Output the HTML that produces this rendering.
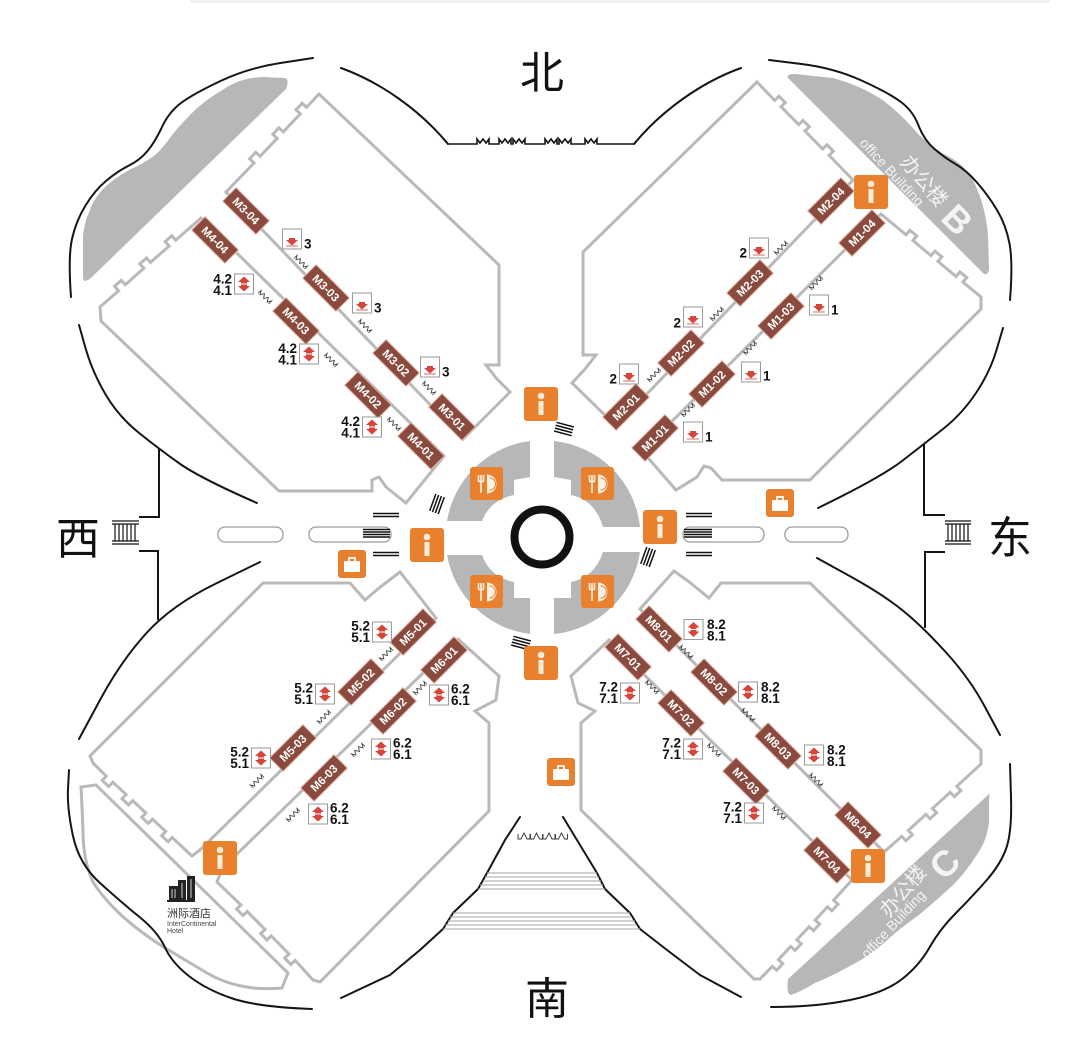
<!DOCTYPE html>
<html><head><meta charset="utf-8"><style>
html,body{margin:0;padding:0;background:#fff;}
svg{display:block;}
.hall{fill:none;stroke:#b9b9b9;stroke-width:3;stroke-linejoin:miter;}
.blk{fill:none;stroke:#151515;stroke-width:2;stroke-linecap:round;}
.gf{fill:#b5b7b9;}
.lb rect{fill:#8b4a3e;stroke:#e3b2a6;stroke-width:1;}
.lb text{fill:#fff;font:bold 11.5px "Liberation Sans",sans-serif;text-anchor:middle;}
.n{font:bold 13.5px "Liberation Sans",sans-serif;fill:#111;}
.ne{text-anchor:end;}
.dir{font:44px "Liberation Sans","Noto Sans CJK SC",sans-serif;fill:#111;text-anchor:middle;}
.st{stroke:#111;stroke-width:1.5;fill:none;}
</style></head><body>
<svg width="1080" height="1057" viewBox="0 0 1080 1057" xmlns="http://www.w3.org/2000/svg">
<defs>
<symbol id="info" viewBox="0 0 34 34"><rect width="34" height="34" rx="3" fill="#e8802e"/><circle cx="17" cy="9" r="3.3" fill="#fbecd9"/><rect x="14.5" y="14" width="5" height="14" fill="#fbecd9"/></symbol>
<symbol id="rest" viewBox="0 0 33 33"><rect width="33" height="33" rx="3" fill="#e8802e"/><path d="M8.5,8 V14 M11,8 V14 M13.5,8 V14 M8,14.5 H14 M11,14 V26" stroke="#fdf1e4" stroke-width="1.6" fill="none"/><path d="M17,7.5 A9.5,9.5 0 0 1 17,26.5 Z" fill="#fdf1e4"/><path d="M19.5,11 A6,6 0 0 1 19.5,23" stroke="#e8802e" stroke-width="1" fill="none"/></symbol>
<symbol id="bag" viewBox="0 0 28 28"><rect width="28" height="28" rx="3" fill="#e8802e"/><rect x="6" y="11" width="16" height="11" rx="1" fill="#fff"/><path d="M11,11 V8 H17 V11" stroke="#fff" stroke-width="1.8" fill="none"/></symbol>
<symbol id="ud" viewBox="0 0 20 21"><rect x="0.5" y="0.5" width="19" height="20" fill="#fff" stroke="#9a9a9a"/><polygon points="10,3 16,8.5 13,8.5 13,10 7,10 7,8.5 4,8.5" fill="#d6453b"/><polygon points="10,18 16,12.5 13,12.5 13,11 7,11 7,12.5 4,12.5" fill="#d6453b"/></symbol>
<symbol id="d1" viewBox="0 0 20 21"><rect x="0.5" y="0.5" width="19" height="20" fill="#fff" stroke="#9a9a9a"/><polygon points="10,17 16,11.5 13,11.5 13,9.5 7,9.5 7,11.5 4,11.5" fill="#d6453b"/><line x1="4" y1="17.5" x2="16" y2="17.5" stroke="#d6453b" stroke-width="0.8"/></symbol>
<symbol id="zz" viewBox="0 0 16 6"><path d="M0.5,5.5 V1 L2.9,5 L5.3,1 L8,5 L10.7,1 L13.1,5 L15.5,1 V5.5" fill="none" stroke="#444" stroke-width="0.9"/></symbol>
</defs>
<rect width="1080" height="1057" fill="#fff"/>
<line x1="190" y1="1.5" x2="1050" y2="1.5" stroke="#efefef" stroke-width="3"/>

<!-- gray blobs -->
<path class="gf" d="M286,89 Q290,78 284,78 L262,77 Q240,78 224,89 Q205,100 193,112 Q180,125 172,135 Q163,148 155,155 Q143,164 131,169 Q114,178 103,189 Q93,200 90,210 Q84,223 83,236 L83,271 Q83,281 84,281 Q89,281 95,274 Z"/>
<path class="gf" d="M788,78 Q786,74 795,74 L833,78 Q862,86 884,101 Q903,116 919,135 Q935,150 953,159 Q970,170 977,189 Q986,210 988,236 L989,268 Q989,275 984,274 Z"/>
<path class="gf" d="M988,795 Q990,790 989,800 L989,822 Q987,838 981,848 Q968,870 953,885 Q937,900 919,915 Q900,928 884,943 Q868,957 850,966 Q832,976 815,983 Q800,992 791,995 Q786,994 788,979 Z"/>

<!-- ring segments -->
<path class="gf" d="M447,521 A96.5,96.5 0 0 1 530,441 L530,477 L514,480 L514,495 Q490,500 482,521 Z"/>
<path class="gf" d="M554,441 A96.5,96.5 0 0 1 640,527 L603,527 Q595,500 571,495 L571,480 L554,477 Z"/>
<path class="gf" d="M447,555 L482,555 Q490,577 514,582 L514,598 L530,598 L530,634 A96.5,96.5 0 0 1 447,555 Z"/>
<path class="gf" d="M554,634 L554,598 L571,598 L571,582 Q595,577 603,552 L640,552 A96.5,96.5 0 0 1 554,634 Z"/>

<!-- halls -->
<path class="hall" d="M319,94 L499,265 L499,365 L486,365 L497,379 L510,392 L463,439 L226,192 L254,163 L249.6,158.8 L255.7,152.3 L260.1,156.3 L277.2,138.3 L272.8,134.3 L278.9,127.8 L283.3,131.8 L300.4,113.8 L296,109.8 L302.1,103.3 L306.5,107.4 Z"/>
<path class="hall" d="M201,218 L175.8,240.1 L171.8,235.7 L165.1,241.6 L169.1,246 L150.5,262.4 L146.5,258 L139.8,263.9 L143.8,268.3 L125.3,284.8 L121.3,280.4 L114.6,286.3 L118.6,290.7 L100,307 L101,321 L279,491 L372,491 L372,480 L379,477 L386,487 L406,503 L444,456 Z"/>
<path class="hall" d="M757,82 L583,252 L583,355 L596,355 L585,369 L572,383 L616,426 L853,180 L829,155.3 L833.3,151.2 L827,144.8 L822.7,149 L805,131 L809.3,126.8 L803,120.4 L798.7,124.6 L781,106.7 L785.3,102.6 L779,96.2 L774.7,100.4 Z"/>
<path class="hall" d="M642,451 L881,214 L906,234.8 L909.9,230.3 L916.8,236 L912.9,240.5 L931,255.6 L934.9,251.1 L941.8,256.8 L937.9,261.3 L956,276.5 L959.9,271.9 L966.8,277.6 L962.9,282.1 L981,297 L981,309 L810,480 L722,480 L711,468 L704,466 L697,477 L676,490 Z"/>
<path class="hall" d="M263,583 L350,583 L365,600 L379,588 L400,572 L436,618 L200,850 L192,856 L172.2,837.5 L168.1,841.8 L161.6,835.7 L165.7,831.4 L152.4,819.1 L148.3,823.4 L141.8,817.3 L145.9,813 L132.6,800.6 L128.5,804.9 L122,798.8 L126.1,794.5 L112.8,782.2 L108.7,786.5 L102.2,780.4 L106.3,776.1 L93,763 L90,756 Z"/>
<path class="hall" d="M458,639 L238,853 L222,869 L217,882 L241,905 L236.7,909.1 L242.9,915.5 L247.2,911.4 L265,929.5 L260.7,933.6 L266.9,940 L271.2,935.9 L289,954 L284.7,958.1 L290.9,964.5 L295.2,960.4 L313,980 L320,982 L489,811 L489,723 L475,711 L496,700 L499,676 Z"/>
<path class="hall" d="M674,571 L688,581 L709,598 L721,583 L810,583 L981,750 L981,764 L956.8,786.3 L960.9,790.6 L954.3,796.6 L950.2,792.3 L932.5,808.4 L936.6,812.7 L930,818.7 L925.9,814.4 L908.3,830.4 L912.4,834.7 L905.8,840.7 L901.7,836.4 L884,852 L640,609 Z"/>
<path class="hall" d="M609,640 L852,880 L833.6,900.3 L838,904.2 L831.9,910.8 L827.5,906.9 L815.2,920.1 L819.6,924 L813.5,930.6 L809.1,926.7 L796.8,939.9 L801.2,943.8 L795.1,950.4 L790.7,946.5 L778.4,959.7 L782.8,963.6 L776.7,970.2 L772.3,966.3 L760,979 L754,979 L581,810 L581,723 L595,711 L578,703 L571,676 Z"/>
<path class="hall" d="M81,787 L96,785 L288,973 L282,988 Q260,990 241,986 Q222,982 207,973 Q185,960 162,946 Q140,932 121,915 Q103,898 93,882 Q83,860 83,831 Q82,805 81,787 Z"/>

<!-- outer black lines -->
<path class="blk" d="M313,58 L280.5,63 Q248,68 220.5,81 Q193,94 181,103 Q169,112 162,127 Q155,142 147.5,151 Q140,160 129,165.5 Q118,171 106.5,180.5 Q95,190 85.5,205.5 Q76,221 72,239 Q68,257 71,297"/>
<path class="blk" d="M79,325 L85.5,348 Q92,371 105,393.5 Q118,416 138.5,432.5 Q159,449 179.5,463.5 Q200,478 257,503"/>
<path class="blk" d="M341,68 C380,82 420,110 448,144"/>
<path class="blk" d="M448,144 L477,144 L477,139 L480,143 L483,139 L486,143 L489,139 L489,144 L499,144 L499,139 L502,143 L505,139 L508,143 L511,139 L511,144 L513,144 L513,139 L516,143 L519,139 L522,143 L525,139 L525,144 L545,144 L545,139 L548,143 L551,139 L554,143 L557,139 L557,144 L559,144 L559,139 L562,143 L565,139 L568,143 L571,139 L571,144 L585,144 L585,139 L588,143 L591,139 L594,143 L597,139 L597,144 L634,144" style="stroke-width:1.6"/>
<path class="blk" d="M634,144 C662,110 702,82 741,68"/>
<path class="blk" d="M769,60 L801.5,64 Q834,68 861.5,80.5 Q889,93 901,102 Q913,111 918.5,125.5 Q924,140 934.5,149 Q945,158 955.5,164 Q966,170 977,182.5 Q988,195 997,210 Q1006,225 1009.5,243.5 Q1013,262 1010,300"/>
<path class="blk" d="M1003,328 L996.5,350 Q990,372 976,393 Q962,414 943,429 Q924,444 902,461 Q880,478 818,508"/>
<path class="blk" d="M260,562 L216,583.5 Q172,605 146.5,633 Q121,661 100,700 L79,739"/>
<path class="blk" d="M69,770 L68,789 Q67,808 73,836 Q79,864 100,883 Q121,902 139.5,917 Q158,932 165,947.5 Q172,963 189.5,976.5 Q207,990 232.5,998.5 Q258,1007 312,1009"/>
<polyline class="blk" points="341,998 390,975 420,950 443,929 453,913 478,889 487,873 505,840 520,817" style="stroke-linejoin:round"/>
<path class="blk" d="M817,558 L850.5,576.5 Q884,595 904,611.5 Q924,628 947,653.5 Q970,679 985,707 L1000,735"/>
<path class="blk" d="M1010,764 L1011,797.5 Q1012,831 1006.5,847.5 Q1001,864 985.5,881.5 Q970,899 955,914 Q940,929 929.5,947.5 Q919,966 901.5,979.5 Q884,993 850,1000 Q816,1007 771,1007"/>
<polyline class="blk" points="741,997 700,975 667,950 640,929 630,913 605,889 597,873 580,845 563,817" style="stroke-linejoin:round"/>
<path class="blk" d="M159,449 L159,517 L139,517 M924,444 L924,515 L945,515 M158,620 L158,551 L139,551 M925,628 L925,552 L945,552" style="stroke-linecap:butt"/>

<!-- outer stair icons -->
<path d="M112,521 H139 M112,524 H139 M115,524 V541 M119,524 V541 M123,524 V541 M127,524 V541 M131,524 V541 M135,524 V541 M112,541 H139 M112,544 H139" stroke="#111" stroke-width="1.2" fill="none"/>
<path d="M945,521 H971 M945,524 H971 M948,524 V541 M952,524 V541 M956,524 V541 M960,524 V541 M964,524 V541 M968,524 V541 M945,541 H971 M945,544 H971" stroke="#111" stroke-width="1.2" fill="none"/>

<!-- south stairs -->
<g stroke="#a5a5a5" stroke-width="1">
<line x1="487" y1="873" x2="597" y2="873"/><line x1="485" y1="877" x2="599" y2="877"/><line x1="483" y1="881" x2="601" y2="881"/><line x1="480" y1="885" x2="603" y2="885"/><line x1="478" y1="889" x2="605" y2="889"/>
<line x1="453" y1="913" x2="630" y2="913"/><line x1="450" y1="917" x2="632" y2="917"/><line x1="448" y1="921" x2="635" y2="921"/><line x1="445" y1="925" x2="637" y2="925"/><line x1="443" y1="929" x2="640" y2="929"/>
</g>
<path d="M518,834 V839 H521 L524,833 L527,839 H530 V834 M530.5,834 V839 H533.5 L536.5,833 L539.5,839 H542.5 V834 M543,834 V839 H546 L549,833 L552,839 H555 V834 M555.5,834 V839 H558.5 L561.5,833 L564.5,839 H567.5 V834" fill="none" stroke="#333" stroke-width="0.9"/>

<!-- axis rounded rects -->
<g fill="#fff" stroke="#9c9c9c" stroke-width="1.3">
<rect x="218" y="527" width="65" height="15" rx="7"/><rect x="309" y="527" width="82" height="15" rx="7"/>
<rect x="683" y="527" width="81" height="15" rx="7"/><rect x="785" y="527" width="63" height="15" rx="7"/>
</g>

<!-- center stairs -->
<g class="st">
<path d="M373,513.5 H399 M373,516.5 H399 M363,529.5 H390 M363,532 H390 M363,534.5 H390 M363,537 H390 M373,552.5 H399 M373,555.5 H399"/>
<path d="M686,513.5 H712 M686,516.5 H712 M684,529.5 H712 M684,532 H712 M684,534.5 H712 M684,537 H712 M686,552.5 H712 M686,555.5 H712"/>
<g transform="translate(564,429) rotate(15)"><path d="M-9,-4.5 H9 M-9,-1.5 H9 M-9,1.5 H9 M-9,4.5 H9"/></g>
<g transform="translate(521,643) rotate(15)"><path d="M-9,-4.5 H9 M-9,-1.5 H9 M-9,1.5 H9 M-9,4.5 H9"/></g>
<g transform="translate(437,504) rotate(20)"><path d="M-4.5,-9 V9 M-1.5,-9 V9 M1.5,-9 V9 M4.5,-9 V9"/></g>
<g transform="translate(648,557) rotate(20)"><path d="M-4.5,-9 V9 M-1.5,-9 V9 M1.5,-9 V9 M4.5,-9 V9"/></g>
</g>

<circle cx="542" cy="537" r="27.5" fill="none" stroke="#111" stroke-width="8"/>

<!-- zigzags -->
<g>
<use href="#zz" x="-8" y="-3" width="16" height="6" transform="translate(301,262) rotate(45)"/>
<use href="#zz" x="-8" y="-3" width="16" height="6" transform="translate(365,326) rotate(45)"/>
<use href="#zz" x="-8" y="-3" width="16" height="6" transform="translate(429,388) rotate(45)"/>
<use href="#zz" x="-8" y="-3" width="16" height="6" transform="translate(265,297) rotate(45)"/>
<use href="#zz" x="-8" y="-3" width="16" height="6" transform="translate(331,360) rotate(45)"/>
<use href="#zz" x="-8" y="-3" width="16" height="6" transform="translate(394,424) rotate(45)"/>
<use href="#zz" x="-8" y="-3" width="16" height="6" transform="translate(781,248) rotate(-45)"/>
<use href="#zz" x="-8" y="-3" width="16" height="6" transform="translate(717,314) rotate(-45)"/>
<use href="#zz" x="-8" y="-3" width="16" height="6" transform="translate(654,375) rotate(-45)"/>
<use href="#zz" x="-8" y="-3" width="16" height="6" transform="translate(816,283) rotate(-45)"/>
<use href="#zz" x="-8" y="-3" width="16" height="6" transform="translate(750,348) rotate(-45)"/>
<use href="#zz" x="-8" y="-3" width="16" height="6" transform="translate(688,410) rotate(-45)"/>
<use href="#zz" x="-8" y="-3" width="16" height="6" transform="translate(386,654) rotate(-45)"/>
<use href="#zz" x="-8" y="-3" width="16" height="6" transform="translate(324,717) rotate(-45)"/>
<use href="#zz" x="-8" y="-3" width="16" height="6" transform="translate(257,781) rotate(-45)"/>
<use href="#zz" x="-8" y="-3" width="16" height="6" transform="translate(420,688) rotate(-45)"/>
<use href="#zz" x="-8" y="-3" width="16" height="6" transform="translate(358,750) rotate(-45)"/>
<use href="#zz" x="-8" y="-3" width="16" height="6" transform="translate(293,815) rotate(-45)"/>
<use href="#zz" x="-8" y="-3" width="16" height="6" transform="translate(686,652) rotate(45)"/>
<use href="#zz" x="-8" y="-3" width="16" height="6" transform="translate(748,715) rotate(45)"/>
<use href="#zz" x="-8" y="-3" width="16" height="6" transform="translate(816,780) rotate(45)"/>
<use href="#zz" x="-8" y="-3" width="16" height="6" transform="translate(652,687) rotate(45)"/>
<use href="#zz" x="-8" y="-3" width="16" height="6" transform="translate(714,750) rotate(45)"/>
<use href="#zz" x="-8" y="-3" width="16" height="6" transform="translate(779,813) rotate(45)"/>
</g>

<!-- icons -->
<use href="#rest" x="470" y="467" width="33" height="33"/>
<use href="#rest" x="581" y="467" width="33" height="33"/>
<use href="#rest" x="470" y="575" width="33" height="33"/>
<use href="#rest" x="581" y="575" width="33" height="33"/>
<use href="#info" x="524" y="387" width="34" height="34"/>
<use href="#info" x="410" y="528" width="34" height="34"/>
<use href="#info" x="643" y="510" width="34" height="34"/>
<use href="#info" x="524" y="646" width="34" height="34"/>
<use href="#info" x="854" y="175" width="34" height="34"/>
<use href="#info" x="203" y="841" width="34" height="34"/>
<use href="#info" x="851" y="849" width="34" height="34"/>
<use href="#bag" x="766" y="489" width="28" height="28"/>
<use href="#bag" x="338" y="550" width="28" height="28"/>
<use href="#bag" x="547" y="758" width="28" height="28"/>

<!-- labels -->
<g class="lb">
<g transform="translate(246,211) rotate(45)"><rect x="-23.5" y="-9.5" width="47" height="19"/><text y="4">M3-04</text></g>
<g transform="translate(326,288) rotate(45)"><rect x="-23.5" y="-9.5" width="47" height="19"/><text y="4">M3-03</text></g>
<g transform="translate(396,363) rotate(45)"><rect x="-23.5" y="-9.5" width="47" height="19"/><text y="4">M3-02</text></g>
<g transform="translate(452,417) rotate(45)"><rect x="-23.5" y="-9.5" width="47" height="19"/><text y="4">M3-01</text></g>
<g transform="translate(215,240) rotate(45)"><rect x="-23.5" y="-9.5" width="47" height="19"/><text y="4">M4-04</text></g>
<g transform="translate(296,321) rotate(45)"><rect x="-23.5" y="-9.5" width="47" height="19"/><text y="4">M4-03</text></g>
<g transform="translate(368,395) rotate(45)"><rect x="-23.5" y="-9.5" width="47" height="19"/><text y="4">M4-02</text></g>
<g transform="translate(421,446) rotate(45)"><rect x="-23.5" y="-9.5" width="47" height="19"/><text y="4">M4-01</text></g>

<g transform="translate(831,201) rotate(-45)"><rect x="-23.5" y="-9.5" width="47" height="19"/><text y="4">M2-04</text></g>
<g transform="translate(750,283) rotate(-45)"><rect x="-23.5" y="-9.5" width="47" height="19"/><text y="4">M2-03</text></g>
<g transform="translate(681,353) rotate(-45)"><rect x="-23.5" y="-9.5" width="47" height="19"/><text y="4">M2-02</text></g>
<g transform="translate(626,407) rotate(-45)"><rect x="-23.5" y="-9.5" width="47" height="19"/><text y="4">M2-01</text></g>
<g transform="translate(862,233) rotate(-45)"><rect x="-23.5" y="-9.5" width="47" height="19"/><text y="4">M1-04</text></g>
<g transform="translate(781,316) rotate(-45)"><rect x="-23.5" y="-9.5" width="47" height="19"/><text y="4">M1-03</text></g>
<g transform="translate(712,384) rotate(-45)"><rect x="-23.5" y="-9.5" width="47" height="19"/><text y="4">M1-02</text></g>
<g transform="translate(655,438) rotate(-45)"><rect x="-23.5" y="-9.5" width="47" height="19"/><text y="4">M1-01</text></g>

<g transform="translate(413,632) rotate(-45)"><rect x="-23.5" y="-9.5" width="47" height="19"/><text y="4">M5-01</text></g>
<g transform="translate(361,682) rotate(-45)"><rect x="-23.5" y="-9.5" width="47" height="19"/><text y="4">M5-02</text></g>
<g transform="translate(293,748) rotate(-45)"><rect x="-23.5" y="-9.5" width="47" height="19"/><text y="4">M5-03</text></g>
<g transform="translate(444,660) rotate(-45)"><rect x="-23.5" y="-9.5" width="47" height="19"/><text y="4">M6-01</text></g>
<g transform="translate(393,711) rotate(-45)"><rect x="-23.5" y="-9.5" width="47" height="19"/><text y="4">M6-02</text></g>
<g transform="translate(324,778) rotate(-45)"><rect x="-23.5" y="-9.5" width="47" height="19"/><text y="4">M6-03</text></g>

<g transform="translate(659,629) rotate(45)"><rect x="-23.5" y="-9.5" width="47" height="19"/><text y="4">M8-01</text></g>
<g transform="translate(714,682) rotate(45)"><rect x="-23.5" y="-9.5" width="47" height="19"/><text y="4">M8-02</text></g>
<g transform="translate(778,746) rotate(45)"><rect x="-23.5" y="-9.5" width="47" height="19"/><text y="4">M8-03</text></g>
<g transform="translate(858,825) rotate(45)"><rect x="-23.5" y="-9.5" width="47" height="19"/><text y="4">M8-04</text></g>
<g transform="translate(628,657) rotate(45)"><rect x="-23.5" y="-9.5" width="47" height="19"/><text y="4">M7-01</text></g>
<g transform="translate(681,713) rotate(45)"><rect x="-23.5" y="-9.5" width="47" height="19"/><text y="4">M7-02</text></g>
<g transform="translate(746,781) rotate(45)"><rect x="-23.5" y="-9.5" width="47" height="19"/><text y="4">M7-03</text></g>
<g transform="translate(827,860) rotate(45)"><rect x="-23.5" y="-9.5" width="47" height="19"/><text y="4">M7-04</text></g>
</g>

<!-- elevator boxes -->
<use href="#d1" x="282" y="228.5" width="20" height="21"/>
<use href="#d1" x="352" y="292.5" width="20" height="21"/>
<use href="#d1" x="420" y="356.5" width="20" height="21"/>
<text class="n" x="304" y="248.5">3</text><text class="n" x="374" y="312.5">3</text><text class="n" x="442" y="376.5">3</text>
<use href="#ud" x="234" y="273.5" width="20" height="21"/>
<use href="#ud" x="299" y="343.5" width="20" height="21"/>
<use href="#ud" x="362" y="416.5" width="20" height="21"/>
<text class="n ne" x="232" y="283.5">4.2</text><text class="n ne" x="232" y="295">4.1</text>
<text class="n ne" x="297" y="353">4.2</text><text class="n ne" x="297" y="364.5">4.1</text>
<text class="n ne" x="360" y="426">4.2</text><text class="n ne" x="360" y="437.5">4.1</text>

<use href="#d1" x="749" y="237.5" width="20" height="21"/>
<use href="#d1" x="683" y="306.5" width="20" height="21"/>
<use href="#d1" x="619" y="363.5" width="20" height="21"/>
<text class="n ne" x="747" y="257.5">2</text><text class="n ne" x="681" y="327.5">2</text><text class="n ne" x="617" y="383.5">2</text>
<use href="#d1" x="809" y="294.5" width="20" height="21"/>
<use href="#d1" x="741" y="361.5" width="20" height="21"/>
<use href="#d1" x="683" y="421.5" width="20" height="21"/>
<text class="n" x="831" y="314.5">1</text><text class="n" x="763" y="380.5">1</text><text class="n" x="705" y="441.5">1</text>

<use href="#ud" x="372" y="621.5" width="20" height="21"/>
<use href="#ud" x="315" y="683.5" width="20" height="21"/>
<use href="#ud" x="251" y="747.5" width="20" height="21"/>
<text class="n ne" x="370" y="630.5">5.2</text><text class="n ne" x="370" y="642">5.1</text>
<text class="n ne" x="313" y="692.5">5.2</text><text class="n ne" x="313" y="704">5.1</text>
<text class="n ne" x="249" y="756.5">5.2</text><text class="n ne" x="249" y="768">5.1</text>
<use href="#ud" x="429" y="684.5" width="20" height="21"/>
<use href="#ud" x="371" y="738.5" width="20" height="21"/>
<use href="#ud" x="308" y="803.5" width="20" height="21"/>
<text class="n" x="451" y="693.5">6.2</text><text class="n" x="451" y="705">6.1</text>
<text class="n" x="393" y="747.5">6.2</text><text class="n" x="393" y="759">6.1</text>
<text class="n" x="330" y="812.5">6.2</text><text class="n" x="330" y="824">6.1</text>

<use href="#ud" x="683.5" y="619" width="20" height="21"/>
<use href="#ud" x="738" y="681.5" width="20" height="21"/>
<use href="#ud" x="804" y="744.5" width="20" height="21"/>
<text class="n" x="707" y="629">8.2</text><text class="n" x="707" y="640.5">8.1</text>
<text class="n" x="761" y="691.5">8.2</text><text class="n" x="761" y="703">8.1</text>
<text class="n" x="827" y="754.5">8.2</text><text class="n" x="827" y="766">8.1</text>
<use href="#ud" x="620" y="682.5" width="20" height="21"/>
<use href="#ud" x="683" y="738.5" width="20" height="21"/>
<use href="#ud" x="744" y="802.5" width="20" height="21"/>
<text class="n ne" x="618" y="691.5">7.2</text><text class="n ne" x="618" y="703">7.1</text>
<text class="n ne" x="681" y="747.5">7.2</text><text class="n ne" x="681" y="759">7.1</text>
<text class="n ne" x="742" y="811.5">7.2</text><text class="n ne" x="742" y="823">7.1</text>

<!-- office building texts -->
<g fill="#f4f4f4">
<text transform="translate(924,181) rotate(50)" text-anchor="middle" y="7" style="font:20px 'Liberation Sans','Noto Sans CJK SC',sans-serif">办公楼</text>
<text transform="translate(892,172) rotate(47)" text-anchor="middle" y="5" style="font:14px 'Liberation Sans',sans-serif">office Building</text>
<text transform="translate(957,220) rotate(45)" text-anchor="middle" y="12" style="font:bold 36px 'Liberation Sans',sans-serif">B</text>
<text transform="translate(903,891) rotate(-50)" text-anchor="middle" y="7" style="font:20px 'Liberation Sans','Noto Sans CJK SC',sans-serif">办公楼</text>
<text transform="translate(893,924) rotate(-47)" text-anchor="middle" y="5" style="font:14px 'Liberation Sans',sans-serif">office Building</text>
<text transform="translate(945,864) rotate(-45)" text-anchor="middle" y="12" style="font:bold 36px 'Liberation Sans',sans-serif">C</text>
</g>

<!-- hotel -->
<g fill="#222">
<rect x="167" y="900" width="28" height="2"/>
<rect x="169" y="886" width="9" height="14"/>
<rect x="178" y="880" width="8" height="20"/>
<rect x="187" y="876" width="8" height="24"/>
</g>
<g stroke="#fff" stroke-width="0.8"><line x1="172" y1="889" x2="172" y2="898"/><line x1="175" y1="889" x2="175" y2="898"/><line x1="182" y1="883" x2="182" y2="898"/><line x1="191" y1="879" x2="191" y2="898"/></g>
<text x="167" y="917" style="font:11px 'Liberation Sans','Noto Sans CJK SC',sans-serif" fill="#333">洲际酒店</text>
<text x="167" y="926" style="font:7px 'Liberation Sans',sans-serif" fill="#444">InterContinental</text>
<text x="167" y="933" style="font:7px 'Liberation Sans',sans-serif" fill="#444">Hotel</text>

<!-- direction chars -->
<text class="dir" x="542" y="88">北</text>
<text class="dir" x="547" y="1014">南</text>
<text class="dir" x="78" y="554">西</text>
<text class="dir" x="1010" y="553">东</text>
</svg>
</body></html>
